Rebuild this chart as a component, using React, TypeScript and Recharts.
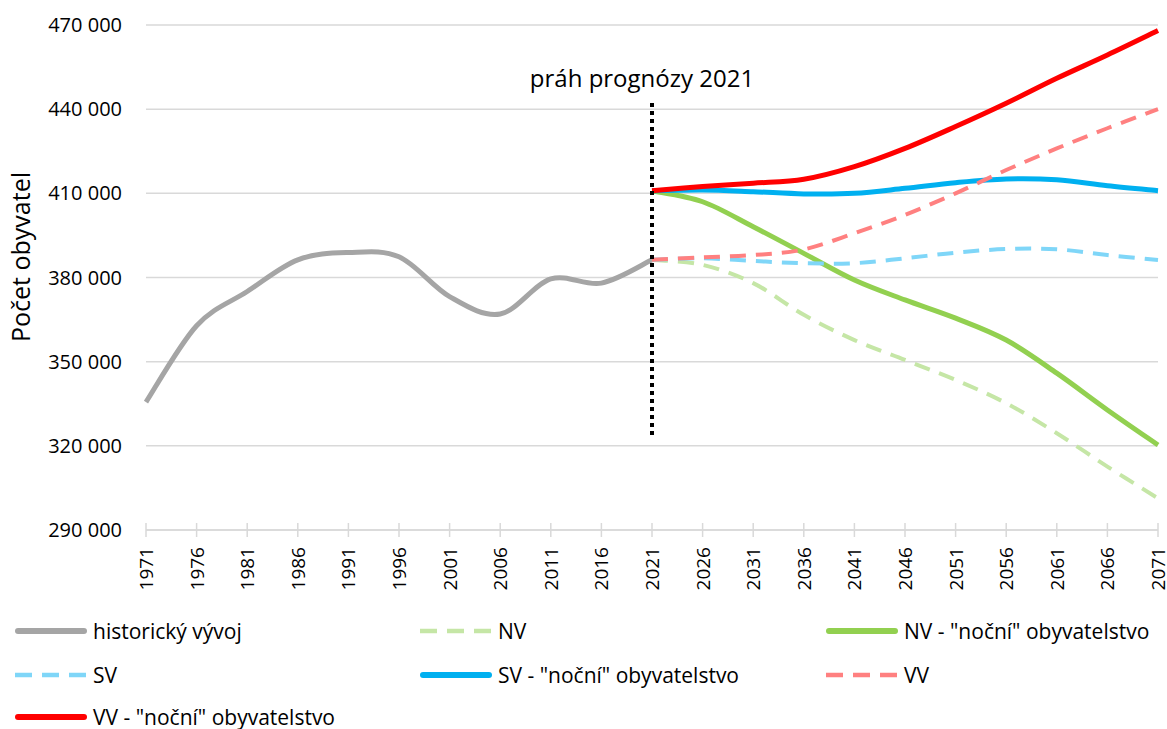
import { CartesianGrid, Label, Line, LineChart, ReferenceLine, XAxis, YAxis } from "recharts"

// osa x – roky po 5 letech
const years = [
  1971, 1976, 1981, 1986, 1991, 1996, 2001, 2006, 2011, 2016, 2021, 2026, 2031, 2036, 2041, 2046,
  2051, 2056, 2061, 2066, 2071,
]
const historyYears = years.slice(0, 11)
const forecastYears = years.slice(10)

const historicky = [335600, 362800, 375000, 386300, 388900, 387400, 373200, 367000, 379500, 378000, 386300]

const nv = [386300, 384500, 378000, 366700, 357700, 350600, 343500, 335200, 324500, 312600, 301300]
const nvNocni = [410900, 407000, 398100, 388600, 379100, 372000, 365500, 357700, 345900, 332800, 320300]
const sv = [386300, 386850, 385900, 385100, 385100, 386850, 388850, 390150, 390050, 388000, 386250]
const svNocni = [410900, 411200, 410600, 409800, 410000, 411800, 413800, 415100, 414800, 412700, 410950]
const vv = [386300, 387200, 388000, 390000, 395800, 402300, 410000, 418300, 426000, 433200, 440000]
const vvNocni = [410900, 412400, 413600, 415000, 419500, 426000, 433800, 442100, 451000, 459300, 468000]

const yTicks = [290000, 320000, 350000, 380000, 410000, 440000, 470000]

const FONT = '"Open Sans", sans-serif'

const series = [
  { key: "hist", name: "historický vývoj", color: "#A5A5A5", dashed: false },
  { key: "nv", name: "NV", color: "#C5E6A6", dashed: true },
  { key: "nvNocni", name: 'NV - "noční" obyvatelstvo', color: "#92D050", dashed: false },
  { key: "sv", name: "SV", color: "#7FD6F8", dashed: true },
  { key: "svNocni", name: 'SV - "noční" obyvatelstvo', color: "#00B0F0", dashed: false },
  { key: "vv", name: "VV", color: "#FF8080", dashed: true },
  { key: "vvNocni", name: 'VV - "noční" obyvatelstvo', color: "#FF0000", dashed: false },
]

const rows = years.map((year) => {
  const h = historyYears.indexOf(year)
  const f = forecastYears.indexOf(year)
  return {
    year,
    hist: h >= 0 ? historicky[h] : null,
    nv: f >= 0 ? nv[f] : null,
    nvNocni: f >= 0 ? nvNocni[f] : null,
    sv: f >= 0 ? sv[f] : null,
    svNocni: f >= 0 ? svNocni[f] : null,
    vv: f >= 0 ? vv[f] : null,
    vvNocni: f >= 0 ? vvNocni[f] : null,
  }
})

// vyhlazení podobné Excelu (Catmull-Rom přes Bézierovy křivky)
function excelSmooth(context: any) {
  let pts: number[][] = []
  return {
    areaStart() {},
    areaEnd() {},
    lineStart() {
      pts = []
    },
    point(x: number, y: number) {
      pts.push([x, y])
    },
    lineEnd() {
      if (!pts.length) return
      context.moveTo(pts[0][0], pts[0][1])
      for (let i = 0; i < pts.length - 1; i++) {
        const p0 = pts[i - 1] || pts[i]
        const p1 = pts[i]
        const p2 = pts[i + 1]
        const p3 = pts[i + 2] || p2
        const t = 1 / 6
        context.bezierCurveTo(
          p1[0] + (p2[0] - p0[0]) * t,
          p1[1] + (p2[1] - p0[1]) * t,
          p2[0] - (p3[0] - p1[0]) * t,
          p2[1] - (p3[1] - p1[1]) * t,
          p2[0],
          p2[1]
        )
      }
    },
  }
}

const formatThousands = (v: number) => String(v).replace(/\B(?=(\d{3})+(?!\d))/g, " ")

function XTick(props: any) {
  const { x, y, payload } = props
  return (
    <g>
      <line x1={x} x2={x} y1={y - 7} y2={y + 7} stroke="#D9D9D9" strokeWidth={1.5} />
      <text
        x={x}
        y={y + 17}
        transform={`rotate(-90, ${x}, ${y + 17})`}
        textAnchor="end"
        dominantBaseline="central"
        fill="#000"
        fontSize={19}
        fontFamily={FONT}
      >
        {payload.value}
      </text>
    </g>
  )
}

export default function App() {
  return (
    <div style={{ position: "absolute", left: 0, top: 0, width: 1167, height: 729, background: "#fff" }}>
      <LineChart width={1167} height={600} data={rows} margin={{ top: 25, right: 9, bottom: 0, left: 0 }}>
        <CartesianGrid vertical={false} stroke="#D9D9D9" strokeWidth={1.5} />
        <XAxis
          dataKey="year"
          type="number"
          domain={[1971, 2071]}
          ticks={years}
          interval={0}
          tickLine={false}
          tickSize={0}
          tickMargin={0}
          height={70}
          axisLine={{ stroke: "#D9D9D9", strokeWidth: 1.5 }}
          tick={(p: any) => <XTick {...p} />}
        />
        <YAxis
          domain={[290000, 470000]}
          ticks={yTicks}
          interval={0}
          width={146}
          axisLine={false}
          tickLine={false}
          tickSize={0}
          tickMargin={24}
          tickFormatter={formatThousands}
          tick={{ fill: "#000", fontSize: 20, fontFamily: FONT }}
        >
          <Label
            content={() => (
              <text
                x={20}
                y={257}
                transform="rotate(-90, 20, 257)"
                textAnchor="middle"
                dominantBaseline="central"
                fill="#000"
                fontSize={25}
                fontFamily={FONT}
              >
                Počet obyvatel
              </text>
            )}
          />
        </YAxis>
        {series.map((s) => (
          <Line
            key={s.key}
            dataKey={s.key}
            name={s.name}
            type={excelSmooth as any}
            stroke={s.color}
            strokeWidth={s.dashed ? 4 : 5}
            strokeDasharray={s.dashed ? "16 10" : undefined}
            dot={false}
            activeDot={false}
            connectNulls={false}
            isAnimationActive={false}
          />
        ))}
        <ReferenceLine
          segment={[
            { x: 2021, y: 442200 },
            { x: 2021, y: 323200 },
          ]}
          stroke="#000"
          strokeWidth={4}
          strokeDasharray="4 4"
          label={{
            content: (p: any) => (
              <text
                x={p.viewBox.x - 10}
                y={p.viewBox.y - 16}
                textAnchor="middle"
                fill="#000"
                fontSize={24}
                fontFamily={FONT}
              >
                práh prognózy 2021
              </text>
            ),
          }}
        />
      </LineChart>

      {series.map((s, i) => {
        const left = [15, 420, 826][i % 3]
        const top = [631, 675, 717][Math.floor(i / 3)] - 15
        return (
          <div
            key={s.key}
            style={{
              position: "absolute",
              left,
              top,
              height: 30,
              display: "flex",
              alignItems: "center",
              fontFamily: FONT,
              fontSize: 21,
              color: "#000",
              whiteSpace: "nowrap",
            }}
          >
            <svg width={72} height={10}>
              {s.dashed ? (
                <line x1={0} x2={72} y1={5} y2={5} stroke={s.color} strokeWidth={4.5} strokeDasharray="17 10" />
              ) : (
                <line x1={3} x2={69} y1={5} y2={5} stroke={s.color} strokeWidth={6} strokeLinecap="round" />
              )}
            </svg>
            <span style={{ marginLeft: 6 }}>{s.name}</span>
          </div>
        )
      })}
    </div>
  )
}
